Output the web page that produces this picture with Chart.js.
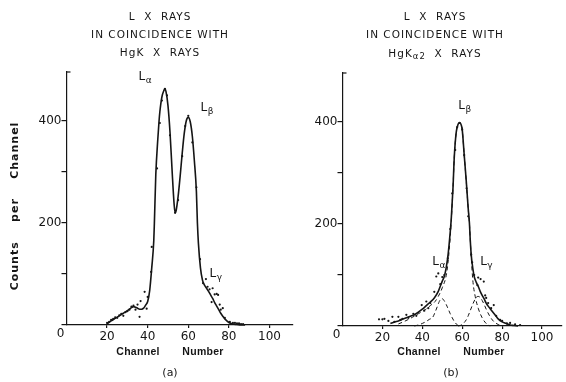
<!DOCTYPE html>
<html>
<head>
<meta charset="utf-8">
<script src="https://cdn.jsdelivr.net/npm/chart.js@4/dist/chart.umd.min.js"></script>
<style>
  body { margin: 0; background: #fff; }
  #wrap { position: relative; width: 566px; height: 382px; overflow: hidden; }
  canvas { position: absolute; top: 0; }
</style>
</head>
<body>
<div id="wrap">
  <canvas id="chartA" width="300" height="382" style="left:0"></canvas>
  <canvas id="chartB" width="290" height="382" style="left:276px"></canvas>
</div>
<script>
// panel (a): L x rays in coincidence with HgK x rays
const aCurveCh = [20, 22, 24, 26, 28, 30, 32, 33, 34, 35, 36, 37, 38, 39, 40, 41, 42, 43, 43.3, 44, 45, 45.6, 46, 47, 48, 48.5, 49, 50, 51, 52, 53, 53.5, 54, 55, 56, 57, 58, 59, 60, 61, 62, 63, 64, 64.5, 65, 66, 67, 68, 69, 70, 71, 72, 73, 74, 75, 76, 77, 78, 79, 80, 82, 84, 86, 88];
const aCurveCounts = [2, 8, 13, 18, 23, 28, 34, 36, 35, 33, 31, 31, 33, 39, 46, 68, 112, 165, 200, 295, 365, 400, 418, 447, 460, 463, 458, 430, 378, 305, 238, 220, 224, 252, 292, 336, 375, 400, 407, 398, 370, 322, 262, 200, 160, 112, 88, 78, 72, 66, 59, 52, 44, 37, 30, 23, 17, 12, 8, 5, 2, 1, 0, 0];
const aPointCh = [20, 21, 22, 23, 24, 25, 26, 27, 28, 29, 30, 31, 32, 33, 34, 35, 36, 36.5, 38.5, 39.5, 40, 41.7, 42, 44.6, 46, 47, 48.5, 49.5, 51, 53.5, 55, 57, 58.5, 60, 62, 64, 65.8, 67.3, 68.7, 69.5, 70.5, 71.5, 72, 73, 74, 74.7, 75.5, 76, 77, 78, 80.5, 82, 83, 84, 85, 86, 87];
const aPointCounts = [4, 6, 10, 12, 15, 14, 19, 22, 18, 25, 27, 30, 36, 38, 30, 40, 16, 47, 65, 32, 55, 104, 153, 307, 396, 440, 463, 450, 372, 220, 245, 331, 390, 410, 358, 270, 129, 82, 90, 75, 70, 45, 72, 60, 61, 59, 40, 30, 33, 14, 6, 4, 4, 3, 3, 2, 2];

// panel (b): L x rays in coincidence with HgK alpha2 x rays
const bCurveCh = [24, 26, 28, 30, 32, 34, 36, 38, 40, 42, 44, 46, 48, 49, 50, 51, 52, 53, 54, 54.5, 55, 55.4, 56, 57, 58, 58.7, 59.5, 60, 61, 62, 63, 63.6, 64, 64.5, 65, 66, 67, 68, 69, 70, 71, 72, 73, 74, 75, 76, 77, 78, 80, 82, 84, 86, 88];
const bCurveCounts = [5, 8, 10, 13, 16, 19, 22, 27, 33, 40, 47, 55, 68, 78, 88, 97, 115, 143, 185, 210, 245, 273, 330, 380, 396, 399, 394, 385, 335, 285, 230, 202, 170, 140, 122, 97, 86, 78, 68, 60, 53, 45, 39, 34, 29, 24, 19, 14, 8, 5, 2, 1, 0];
const bBetaCh = [28, 31, 35, 38, 41.5, 44, 46.4, 48, 50, 52.2, 53.5, 54.5, 55.4, 56, 57, 58, 58.7, 59.5, 60, 61, 62, 63, 63.6, 64.3, 65.3, 66.5, 68, 70, 72, 74];
const bBetaCounts = [4, 9, 17, 24, 32, 40, 48, 58, 75, 104, 150, 205, 273, 330, 380, 396, 399, 394, 385, 335, 285, 230, 202, 150, 90, 58, 35, 16, 5, 0];
const bAlphaCh = [36, 38, 40, 42, 43.5, 45.2, 46.5, 47.5, 48.5, 49.7, 50.5, 52, 53, 54, 55, 56, 57, 58, 59.5];
const bAlphaCounts = [0, 2, 5, 9, 13, 17, 28, 38, 48, 54, 52, 42, 33, 24, 16, 9, 4, 1, 0];
const bGammaCh = [58, 59, 60, 62, 63, 64, 65, 66, 67, 68, 69, 70, 71, 72, 74, 76, 78, 80];
const bGammaCounts = [0, 1, 3, 12, 20, 30, 40, 49, 56, 58, 56, 50, 42, 33, 18, 8, 3, 0];
const bPointCh = [18.3, 20, 21, 23, 25, 26, 28, 29, 30, 32, 33, 35.5, 37, 39.7, 41, 42, 43, 44, 46, 47, 48, 49, 50, 51, 52.8, 54, 55, 56.5, 57.5, 58.7, 60, 61, 62.2, 63, 64.5, 65, 66, 67.6, 68, 69.2, 70.8, 71.5, 72, 73, 74.5, 75.8, 77, 79, 80, 82.4, 84, 86.5, 89];
const bPointCounts = [13, 13, 14, 10, 18, 8, 18, 12, 14, 22, 16, 24, 20, 41, 30, 48, 35, 45, 67, 97, 103, 82, 96, 100, 133, 190, 260, 345, 390, 398, 385, 335, 270, 215, 140, 125, 100, 80, 95, 92, 87, 60, 55, 45, 35, 41, 20, 12, 10, 5, 6, 3, 2];

const yTicks = [0, 100, 200, 300, 400];
const yLabels = [200, 400];
const xTicks = [20, 40, 60, 80, 100];

function pts(xs, ys) {
  return xs.map((x, i) => ({ x: x, y: ys[i] }));
}

const INK = '#151515';
const FONT = '"DejaVu Sans", sans-serif';

function curveSet(xs, ys, dashed) {
  return {
    data: pts(xs, ys),
    showLine: true,
    borderColor: INK,
    borderWidth: dashed ? 1 : 1.6,
    borderDash: dashed ? [4, 3] : [],
    pointRadius: 0,
    cubicInterpolationMode: 'monotone',
    clip: false,
  };
}

function dotSet(xs, ys) {
  return {
    data: pts(xs, ys),
    showLine: false,
    pointRadius: 1.1,
    pointBorderWidth: 0,
    backgroundColor: INK,
    borderColor: INK,
    clip: false,
  };
}

// text with a subscript, e.g. L + alpha
function subText(ctx, x, y, main, sub, size) {
  ctx.font = size + 'px ' + FONT;
  ctx.textAlign = 'left';
  ctx.textBaseline = 'alphabetic';
  ctx.fillText(main, x, y);
  let w = ctx.measureText(main).width;
  ctx.font = Math.round(size * 0.75) + 'px ' + FONT;
  ctx.fillText(sub, x + w + 0.5, y + 3);
}

// titles and annotations
const labels = {
  id: 'labels',
  afterDraw(chart, args, opts) {
    const ctx = chart.ctx;
    const xs = chart.scales.x, ys = chart.scales.y;
    const x0 = xs.getPixelForValue(0), y0 = ys.getPixelForValue(0);
    ctx.save();
    ctx.fillStyle = INK;
    ctx.strokeStyle = INK;
    ctx.textAlign = 'center';
    ctx.textBaseline = 'middle';

    // small bracket at the top of the y axis
    let yTop = ys.getPixelForValue(496);
    ctx.lineWidth = 1.2;
    ctx.beginPath();
    ctx.moveTo(x0 + 4, yTop);
    ctx.lineTo(x0, yTop);
    ctx.stroke();

    ctx.font = '12px ' + FONT;
    ctx.fillText('0', x0 - 6, y0 + 9);

    ctx.font = 'bold 10.5px "Liberation Sans", sans-serif';
    ctx.letterSpacing = '0.3px';
    ctx.fillText('Channel       Number', opts.tx, 352);
    ctx.font = '11px ' + FONT;
    ctx.letterSpacing = '0px';
    ctx.fillText(opts.tag, opts.tx, 373);

    if (opts.yTitle) {
      ctx.save();
      ctx.translate(15, 206);
      ctx.rotate(-Math.PI / 2);
      ctx.font = 'bold 11px ' + FONT;
      ctx.letterSpacing = '1px';
      ctx.fillText('Counts    per    Channel', 0, 0);
      ctx.restore();
    }

    ctx.font = '10.5px ' + FONT;
    ctx.letterSpacing = '1px';
    ctx.fillText('L  X  RAYS', opts.cx, 17);
    ctx.fillText('IN COINCIDENCE WITH', opts.cx, 35);
    if (opts.sub) {
      let a = 'HgK', b = opts.sub, c = '  X  RAYS';
      let wa = ctx.measureText(a).width, wc = ctx.measureText(c).width;
      ctx.font = '8.5px ' + FONT;
      let wb = ctx.measureText(b).width;
      let left = opts.cx - (wa + wb + wc) / 2;
      ctx.font = '10.5px ' + FONT;
      ctx.textAlign = 'left';
      ctx.fillText(a, left, 54);
      ctx.font = '8.5px ' + FONT;
      ctx.fillText(b, left + wa, 57);
      ctx.font = '10.5px ' + FONT;
      ctx.fillText(c, left + wa + wb, 54);
    } else {
      ctx.fillText('HgK  X  RAYS', opts.cx, 53);
    }
    ctx.letterSpacing = '0px';

    opts.peaks.forEach(p => {
      subText(ctx, xs.getPixelForValue(p.ch), ys.getPixelForValue(p.v), 'L', p.s, 12);
    });
    ctx.restore();
  }
};

function makeChart(id, datasets, pad, opts) {
  return new Chart(document.getElementById(id), {
    type: 'scatter',
    data: { datasets: datasets },
    options: {
      responsive: false,
      animation: false,
      layout: { padding: pad },
      scales: {
        x: {
          type: 'linear', min: 0, max: pad.xmax,
          border: { display: true, color: INK, width: 1.2 },
          grid: { drawOnChartArea: false, drawTicks: true, tickLength: 3, color: INK, lineWidth: 1.2 },
          ticks: {
            color: INK, padding: 2, maxRotation: 0, autoSkip: false,
            font: { family: 'DejaVu Sans', size: 12 },
          },
          afterBuildTicks: axis => { axis.ticks = xTicks.map(v => ({ value: v })); },
          afterFit: axis => { axis.height = pad.xh; },
        },
        y: {
          type: 'linear', min: 0, max: 496,
          border: { display: true, color: INK, width: 1.2 },
          grid: { drawOnChartArea: false, drawTicks: true, tickLength: 5, color: INK, lineWidth: 1.2 },
          ticks: {
            color: INK, padding: 0, autoSkip: false,
            font: { family: 'DejaVu Sans', size: 12 },
            callback: v => yLabels.includes(v) ? String(v) : '',
          },
          afterBuildTicks: axis => { axis.ticks = yTicks.map(v => ({ value: v })); },
          afterFit: axis => { axis.width = 66.5 - pad.left; },
        },
      },
      plugins: {
        legend: { display: false },
        tooltip: { enabled: false },
        labels: opts,
      },
    },
    plugins: [labels],
  });
}

makeChart('chartA', [
  dotSet(aPointCh, aPointCounts),
  curveSet(aCurveCh, aCurveCounts, false),
], { left: 0, right: 7, top: 72, bottom: 0, xh: 57, xmax: 111.6 }, {
  cx: 160, tx: 170, tag: '(a)', yTitle: true, sub: null,
  peaks: [{ ch: 35.5, v: 480, s: 'α' }, { ch: 66, v: 420, s: 'β' }, { ch: 70.5, v: 95, s: 'γ' }],
});

makeChart('chartB', [
  dotSet(bPointCh, bPointCounts),
  curveSet(bCurveCh, bCurveCounts, false),
  curveSet(bBetaCh, bBetaCounts, true),
  curveSet(bAlphaCh, bAlphaCounts, true),
  curveSet(bGammaCh, bGammaCounts, true),
], { left: 0, right: 0, top: 73, bottom: 0, xh: 56, xmax: 110 }, {
  cx: 159, tx: 175, tag: '(b)', yTitle: false, sub: 'α2',
  peaks: [{ ch: 58, v: 425, s: 'β' }, { ch: 45, v: 120, s: 'α' }, { ch: 69, v: 120, s: 'γ' }],
});
</script>
</body>
</html>
